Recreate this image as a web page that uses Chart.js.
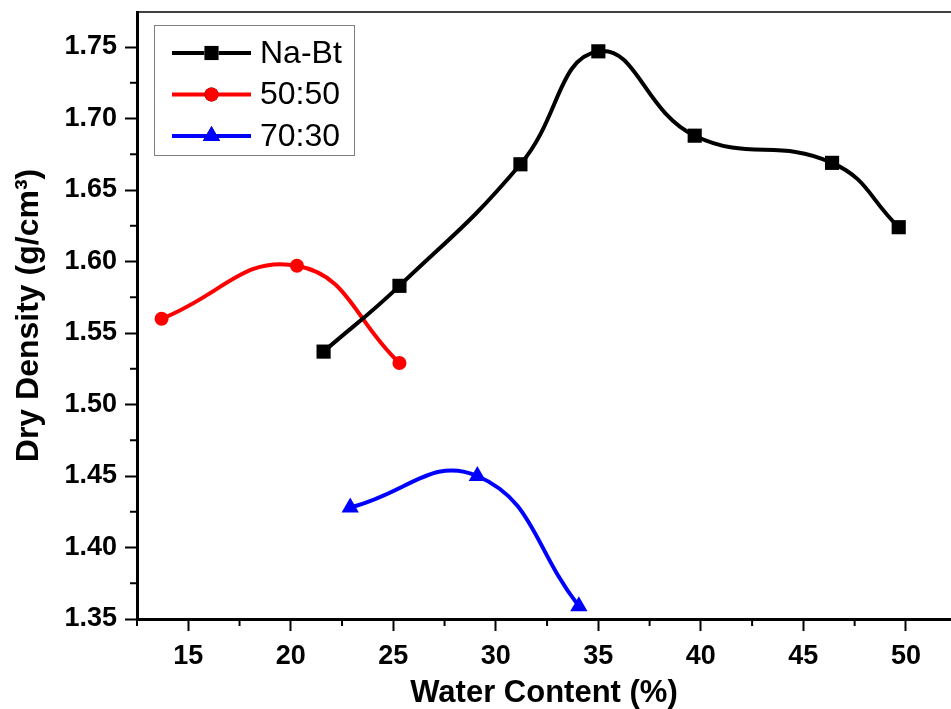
<!DOCTYPE html>
<html>
<head>
<meta charset="utf-8">
<script src="https://cdn.jsdelivr.net/npm/chart.js@4"></script>
<style>
  html, body { margin: 0; padding: 0; background: #fff; }
  #wrap { width: 951px; height: 709px; }
</style>
</head>
<body>
<div id="wrap"><canvas id="densityChart" width="951" height="709"></canvas></div>
<script>
        // Dados
        const seriesNames = ['Na-Bt', '50:50', '70:30'];
        const naBtWater = [21.6, 25.3, 31.2, 35.0, 39.7, 46.4, 49.65];
        const naBtDensity = [1.537, 1.583, 1.668, 1.747, 1.688, 1.669, 1.624];
        const mix5050Water = [13.7, 20.3, 25.3];
        const mix5050Density = [1.560, 1.597, 1.529];
        const mix7030Water = [22.9, 29.1, 34.05];
        const mix7030Density = [1.428, 1.450, 1.359];
        const xTicks = [15, 20, 25, 30, 35, 40, 45, 50];
        const yTicks = [1.35, 1.40, 1.45, 1.50, 1.55, 1.60, 1.65, 1.70, 1.75];

        const toPoints = (xs, ys) => xs.map((x, i) => ({ x: x, y: ys[i] }));

        const fontFamily = '"Liberation Sans", Arial, sans-serif';

        // Legenda desenhada dentro da área do gráfico + eixo superior + ticks menores
        const framePlugin = {
            id: 'framePlugin',
            afterDraw(chart) {
                const ctx = chart.ctx;
                const area = chart.chartArea;
                const xs = chart.scales.x;
                const ys = chart.scales.y;
                ctx.save();
                // linha superior
                ctx.strokeStyle = '#000';
                ctx.lineWidth = 1.5;
                ctx.beginPath();
                ctx.moveTo(area.left, area.top);
                ctx.lineTo(area.right, area.top);
                ctx.stroke();
                // ticks menores
                ctx.lineWidth = 2;
                const minorX = xTicks.map(v => v - 2.5).concat([xTicks[xTicks.length - 1] + 2.5]);
                minorX.forEach(v => {
                    if (v < xs.min || v > xs.max) return;
                    const px = xs.getPixelForValue(v);
                    ctx.beginPath();
                    ctx.moveTo(px, area.bottom);
                    ctx.lineTo(px, area.bottom + 7);
                    ctx.stroke();
                });
                yTicks.forEach(t => {
                    const v = t + 0.025;
                    if (v > ys.max) return;
                    const py = ys.getPixelForValue(v);
                    ctx.beginPath();
                    ctx.moveTo(area.left - 7, py);
                    ctx.lineTo(area.left, py);
                    ctx.stroke();
                });
                // legenda
                const bx = area.left + 17, by = area.top + 13, bw = 200, bh = 130;
                ctx.fillStyle = '#fff';
                ctx.fillRect(bx, by, bw, bh);
                ctx.strokeStyle = '#808080';
                ctx.lineWidth = 1;
                ctx.strokeRect(bx + 0.5, by + 0.5, bw, bh);
                chart.data.datasets.forEach((ds, i) => {
                    const cy = by + 28 + i * 41.5;
                    const x0 = bx + 18, x1 = bx + 97;
                    ctx.strokeStyle = ds.borderColor;
                    ctx.lineWidth = 4;
                    ctx.beginPath();
                    ctx.moveTo(x0, cy);
                    ctx.lineTo(x1, cy);
                    ctx.stroke();
                    Chart.helpers.drawPoint(ctx, {
                        pointStyle: ds.pointStyle,
                        radius: ds.pointRadius,
                        borderWidth: 0,
                        rotation: 0
                    }, (x0 + x1) / 2, cy);
                    ctx.fillStyle = ds.borderColor;
                    ctx.fill();
                    ctx.fillStyle = '#000';
                    ctx.font = '32px ' + fontFamily;
                    ctx.textBaseline = 'middle';
                    ctx.textAlign = 'left';
                    ctx.fillText(ds.label, bx + 106, cy + 1);
                });
                ctx.restore();
            }
        };

        function makeSet(label, xs, ys, color, style, radius) {
            return {
                label: label,
                data: toPoints(xs, ys),
                borderColor: color,
                backgroundColor: color,
                borderWidth: 4,
                pointStyle: style,
                pointRadius: radius,
                pointBorderWidth: 0,
                pointBackgroundColor: color,
                tension: 0.45,
                fill: false
            };
        }

        const ctx = document.getElementById('densityChart').getContext('2d');
        new Chart(ctx, {
            type: 'line',
            data: {
                datasets: [
                    makeSet(seriesNames[0], naBtWater, naBtDensity, '#000000', 'rect', 10),
                    makeSet(seriesNames[1], mix5050Water, mix5050Density, '#ff0000', 'circle', 7),
                    makeSet(seriesNames[2], mix7030Water, mix7030Density, '#0000ff', 'triangle', 10)
                ]
            },
            options: {
                responsive: false,
                animation: false,
                layout: { autoPadding: false, padding: { left: 0, right: 0, top: 12, bottom: 0 } },
                scales: {
                    x: {
                        type: 'linear',
                        min: 12.5,
                        max: 52.2,
                        afterFit(scale) {
                            scale.height = 90;
                            scale.paddingLeft = 0;
                            scale.paddingRight = 0;
                        },
                        afterBuildTicks(scale) { scale.ticks = xTicks.map(v => ({ value: v })); },
                        border: { display: true, color: '#000', width: 3 },
                        grid: { drawOnChartArea: false, drawTicks: true, tickLength: 12, tickColor: '#000', tickWidth: 2 },
                        ticks: {
                            color: '#000',
                            padding: 9,
                            maxRotation: 0,
                            font: { family: fontFamily, size: 27, weight: 'bold' },
                            callback: v => String(v)
                        },
                        title: {
                            display: true,
                            text: 'Water Content (%)',
                            color: '#000',
                            padding: { top: 0, bottom: -3 },
                            font: { family: fontFamily, size: 31, weight: 'bold' }
                        }
                    },
                    y: {
                        type: 'linear',
                        min: 1.35,
                        max: 1.7745,
                        afterFit(scale) {
                            scale.width = 137;
                            scale.paddingTop = 0;
                            scale.paddingBottom = 0;
                        },
                        afterBuildTicks(scale) { scale.ticks = yTicks.map(v => ({ value: v })); },
                        border: { display: true, color: '#000', width: 3 },
                        grid: { drawOnChartArea: false, drawTicks: true, tickLength: 12, tickColor: '#000', tickWidth: 2 },
                        ticks: {
                            color: '#000',
                            padding: 8,
                            font: { family: fontFamily, size: 27, weight: 'bold' },
                            callback: v => Number(v).toFixed(2)
                        },
                        title: {
                            display: true,
                            text: 'Dry Density (g/cm\u00B3)',
                            color: '#000',
                            padding: { top: 10, bottom: 0 },
                            font: { family: fontFamily, size: 32, weight: 'bold' }
                        }
                    }
                },
                plugins: {
                    legend: { display: false },
                    tooltip: { enabled: false }
                }
            },
            plugins: [framePlugin]
        });
</script>
</body>
</html>
